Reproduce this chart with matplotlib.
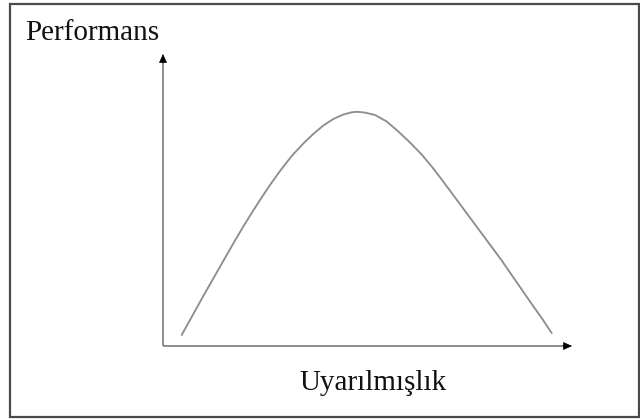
import matplotlib.pyplot as plt
from matplotlib.patches import Rectangle

# values (axis origin = 0,0)
arousal = [18.7, 30.3, 40.3, 50.3, 60.3, 70.3, 80.3, 88.7, 97, 107,
           117, 128.7, 140.3, 150.3, 160.3, 170.3, 180.3, 188.7, 194,
           202, 212, 223.7, 235.3, 247, 258.7, 268.7, 278.7, 288.7, 298.7,
           308.7, 318.7, 328.7, 338.7, 348.7, 358.7, 368.7, 378.7, 388.7]
performance = [11, 32, 50, 67.5, 85, 102.5, 119.5, 133, 146, 161,
               175, 190, 202.5, 212, 220.5, 227, 231.5, 233.7, 234.2,
               233.4, 231, 224.5, 214.5, 203.5, 191.5, 179.5, 166.5, 153, 139.5,
               126, 112.5, 99, 85.5, 71, 56.5, 42, 28, 13]
x_end = 409
y_end = 292
x_label = "Uyarılmışlık"
y_label = "Performans"

plt.rcParams["font.family"] = ["Liberation Serif", "DejaVu Serif"]

fig = plt.figure(figsize=(6.4, 4.19), dpi=100)
ax = fig.add_axes([0, 0, 1, 1])
ax.set_xlim(-163, 477)
ax.set_ylim(-73, 346)
ax.axis("off")

# outer frame
ax.add_patch(Rectangle((-153, -71), 629, 413, fill=False,
                       edgecolor="#4a4a4a", lw=1.6, clip_on=False))

# axes with arrowheads
ax.plot([0, x_end - 6], [0, 0], color="#8c8c8c", lw=1.4, solid_capstyle="butt")
ax.plot([0, 0], [0, y_end - 6], color="#8c8c8c", lw=1.4, solid_capstyle="butt")
ax.annotate("", xy=(x_end, 0), xytext=(x_end - 9, 0),
            arrowprops=dict(arrowstyle="-|>,head_length=0.55,head_width=0.25",
                            color="black", lw=0.5, shrinkA=0, shrinkB=0))
ax.annotate("", xy=(0, y_end), xytext=(0, y_end - 9),
            arrowprops=dict(arrowstyle="-|>,head_length=0.55,head_width=0.25",
                            color="black", lw=0.5, shrinkA=0, shrinkB=0))

# inverted U
ax.plot(arousal, performance, color="#8e8e8e", lw=1.35,
        solid_joinstyle="round", solid_capstyle="round")

ax.text(-138, 306, y_label, fontsize=21, color="#111111", ha="left", va="baseline")
ax.text(210, -44, x_label, fontsize=21, color="#111111", ha="center", va="baseline")

fig.savefig("out.png", dpi=100)
